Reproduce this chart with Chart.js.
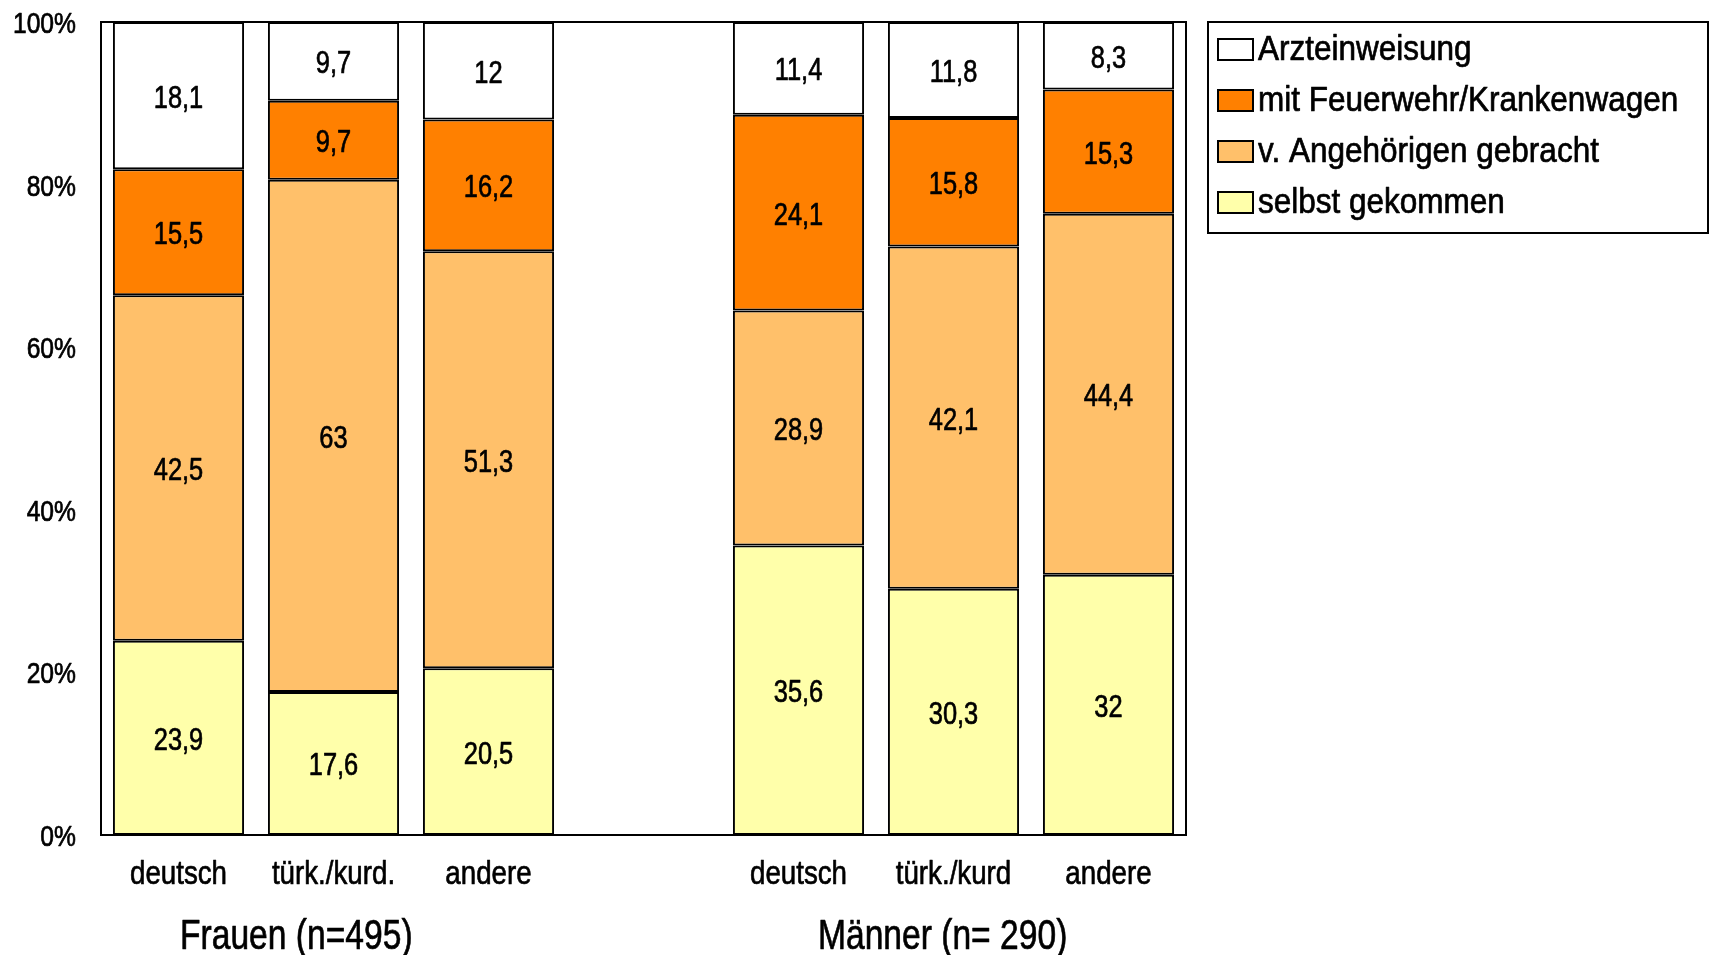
<!DOCTYPE html>
<html>
<head>
<meta charset="utf-8">
<script src="https://cdn.jsdelivr.net/npm/chart.js@4/dist/chart.umd.min.js"></script>
<style>
  html, body { margin: 0; padding: 0; background: #fff; }
  #wrap { width: 1709px; height: 955px; position: relative; }
</style>
</head>
<body>
<div id="wrap"><canvas id="c" width="1709" height="955"></canvas></div>
<script>
// Herkunft der Patienten, getrennt nach Geschlecht (leere Mittelspalte trennt die Gruppen)
const categories = ['deutsch', 'türk./kurd.', 'andere', '', 'deutsch', 'türk./kurd', 'andere'];
const groupTitles = ['Frauen (n=495)', 'Männer (n= 290)'];

// Anteile in Prozent, je Kategorie (null = Trennspalte)
const selbstGekommen   = [23.9, 17.6, 20.5, null, 35.6, 30.3, 32];
const vonAngehoerigen  = [42.5, 63,   51.3, null, 28.9, 42.1, 44.4];
const mitFeuerwehr     = [15.5, 9.7,  16.2, null, 24.1, 15.8, 15.3];
const arzteinweisung   = [18.1, 9.7,  12,   null, 11.4, 11.8, 8.3];

const seriesNames = ['selbst gekommen', 'v. Angehörigen gebracht', 'mit Feuerwehr/Krankenwagen', 'Arzteinweisung'];
const yTicks = [0, 20, 40, 60, 80, 100];

const colors = ['#FFFFAA', '#FFC06A', '#FF8000', '#FFFFFF'];
const seriesData = [selbstGekommen, vonAngehoerigen, mitFeuerwehr, arzteinweisung];

const fmt = v => String(v).replace('.', ',');

// Schmale Schrift: Liberation Sans horizontal gestaucht, leicht verstärkt
function narrowText(ctx, text, x, y, size, align, sx) {
  ctx.save();
  ctx.translate(x, y);
  ctx.scale(sx || 0.82, 1);
  ctx.font = size + 'px "Liberation Sans", Arial, sans-serif';
  ctx.fillStyle = '#000';
  ctx.strokeStyle = '#000';
  ctx.lineWidth = 0.7;
  ctx.lineJoin = 'round';
  ctx.textAlign = align;
  ctx.textBaseline = 'alphabetic';
  ctx.fillText(text, 0, 0);
  ctx.strokeText(text, 0, 0);
  ctx.restore();
}

// Werte mittig in die Segmente schreiben
const valueLabels = {
  id: 'valueLabels',
  afterDatasetsDraw(chart) {
    const ctx = chart.ctx;
    chart.data.datasets.forEach((ds, di) => {
      const meta = chart.getDatasetMeta(di);
      meta.data.forEach((el, i) => {
        const v = ds.data[i];
        if (v === null || v === undefined) return;
        narrowText(ctx, fmt(v), el.x, (el.y + el.base) / 2 + 12, 31, 'center');
      });
    });
  }
};

// Achsenbeschriftung, Rahmen, Gruppentitel und Legende
const frameAndLegend = {
  id: 'frameAndLegend',
  afterDraw(chart) {
    const ctx = chart.ctx;
    const a = chart.chartArea;
    const xs = chart.scales.x, ys = chart.scales.y;

    ctx.save();
    ctx.strokeStyle = '#000';
    ctx.lineWidth = 2;
    ctx.strokeRect(a.left, a.top, a.right - a.left, a.bottom - a.top);
    ctx.restore();

    // y-Achse: Prozentwerte
    ys.ticks.forEach(t => {
      narrowText(ctx, t.value + '%', a.left - 25, ys.getPixelForValue(t.value) + 11, 29, 'right', 0.85);
    });

    // x-Achse: Kategorien
    chart.data.labels.forEach((lab, i) => {
      if (!lab) return;
      narrowText(ctx, lab, xs.getPixelForValue(i), a.bottom + 49, 34, 'center', 0.815);
    });

    // Gruppentitel
    narrowText(ctx, groupTitles[0], xs.getPixelForValue(0.76), a.bottom + 114, 42, 'center', 0.8);
    narrowText(ctx, groupTitles[1], xs.getPixelForValue(4.93), a.bottom + 114, 42, 'center', 0.8);

    // Legende (oberste Schicht zuerst)
    const lx = a.right + 22, ly = a.top, lw = 500, lh = 211;
    ctx.save();
    ctx.strokeStyle = '#000';
    ctx.lineWidth = 2;
    ctx.strokeRect(lx, ly, lw, lh);
    const order = [3, 2, 1, 0];
    order.forEach((di, k) => {
      const base = ly + 38 + k * 51;
      ctx.fillStyle = colors[di];
      ctx.fillRect(lx + 10, base - 21, 35, 21);
      ctx.strokeStyle = '#000';
      ctx.lineWidth = 2;
      ctx.strokeRect(lx + 10, base - 21, 35, 21);
      narrowText(ctx, seriesNames[di], lx + 50, base, 35, 'left', 0.9);
    });
    ctx.restore();
  }
};

new Chart(document.getElementById('c'), {
  type: 'bar',
  data: {
    labels: categories,
    datasets: seriesData.map((d, i) => ({
      label: seriesNames[i],
      data: d,
      backgroundColor: colors[i],
      borderColor: '#000',
      borderWidth: 2,
      borderSkipped: false,
      categoryPercentage: 1,
      barPercentage: 0.846
    }))
  },
  options: {
    responsive: false,
    animation: false,
    devicePixelRatio: 1,
    layout: { padding: { top: 22, right: 523, left: 0, bottom: 0 } },
    plugins: { legend: { display: false }, tooltip: { enabled: false } },
    scales: {
      x: {
        stacked: true,
        grid: { display: false, drawTicks: false },
        border: { display: true, color: '#000', width: 2 },
        ticks: { display: false },
        afterFit: s => { s.height = 120; }
      },
      y: {
        stacked: true,
        min: 0,
        max: 100,
        afterBuildTicks: s => { s.ticks = yTicks.map(v => ({ value: v })); },
        grid: { display: false, drawTicks: false },
        border: { display: true, color: '#000', width: 2 },
        ticks: { display: false },
        afterFit: s => { s.width = 101; }
      }
    }
  },
  plugins: [valueLabels, frameAndLegend]
});
</script>
</body>
</html>
